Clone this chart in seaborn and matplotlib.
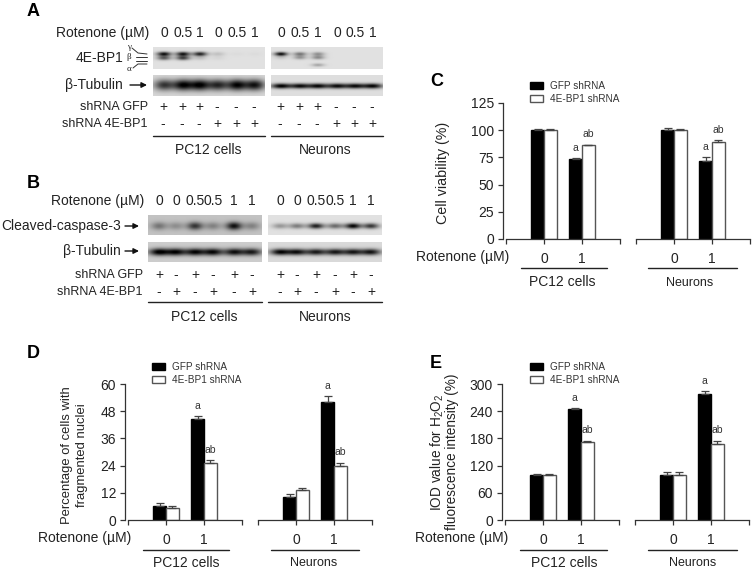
import numpy as np
import pandas as pd
import matplotlib
matplotlib.use("Agg")
import matplotlib.pyplot as plt
import seaborn as sns

W, H = 753, 572

sns.set_theme(style="ticks")
plt.rcParams['font.family'] = ['Liberation Sans', 'DejaVu Sans']
plt.rcParams['mathtext.default'] = 'regular'
plt.rcParams['text.color'] = '#222222'

SERIES = ["GFP shRNA", "4E-BP1 shRNA"]
DOSES = ["0", "1"]

# bar data, [dose 0, dose 1]
c_pc12_gfp = [100, 73.5]
c_pc12_sh = [100, 86]
c_pc12_gfp_err = [1.2, 0.6]
c_pc12_sh_err = [1, 0.5]
c_neu_gfp = [100, 72]
c_neu_sh = [100, 89]
c_neu_gfp_err = [2, 3]
c_neu_sh_err = [1, 2]

d_pc12_gfp = [6.2, 44.5]
d_pc12_sh = [5.2, 25]
d_pc12_gfp_err = [1.2, 1.3]
d_pc12_sh_err = [1, 1.5]
d_neu_gfp = [10.3, 52]
d_neu_sh = [13.2, 23.7]
d_neu_gfp_err = [1, 2.7]
d_neu_sh_err = [0.8, 1.6]

e_pc12_gfp = [100, 245]
e_pc12_sh = [100, 171]
e_pc12_gfp_err = [1, 1.5]
e_pc12_sh_err = [2, 4]
e_neu_gfp = [100, 279]
e_neu_sh = [100, 168]
e_neu_gfp_err = [5, 5]
e_neu_sh_err = [6, 7]

# blot band strengths per lane
a_gamma_pc12 = [.8, .78, .72, .12, .02, .02]
a_beta_pc12 = [.5, .6, .12, .04, 0, 0]
a_gamma_neu = [.8, .4, .3, 0, 0, 0]
a_beta_neu = [.1, .28, .32, 0, 0, 0]
a_alpha_neu = [0, 0, .22, 0, 0, 0]
a_tub_pc12 = [.62, .8, .8, .66, .8, .75]
a_tub_neu = [.85, .78, .8, .78, .78, .82]
b_casp_pc12 = [.3, .2, .55, .25, .7, .25]
b_casp_neu = [.28, .38, .75, .45, .85, .65]
b_tub_pc12 = [.8, .75, .75, .75, .72, .68]
b_tub_neu = [.8, .75, .72, .72, .72, .75]

a_doses = ["0", "0.5", "1", "0", "0.5", "1"]
b_doses = ["0", "0", "0.5", "0.5", "1", "1"]
a_gfp_signs = ["+", "+", "+", "-", "-", "-"]
a_sh_signs = ["-", "-", "-", "+", "+", "+"]
b_gfp_signs = ["+", "-", "+", "-", "+", "-"]
b_sh_signs = ["-", "+", "-", "+", "-", "+"]

fig = plt.figure(figsize=(W / 100, H / 100), dpi=100, facecolor="white")


def px_axes(x0, y0, x1, y1, **kw):
    return fig.add_axes([x0 / W, 1 - y1 / H, (x1 - x0) / W, (y1 - y0) / H], **kw)


def blot(box, lanes, bands, bg, half=7.5):
    x0, y0, x1, y1 = box
    xx, yy = np.meshgrid(np.arange(x0, x1) + .5, np.arange(y0, y1) + .5)
    img = np.full(xx.shape, bg, dtype=float)
    for yc, sig, vals in bands:
        for lane, v in zip(lanes, vals):
            img -= v * np.exp(-((xx - lane) / half) ** 2) * np.exp(-((yy - yc) / sig) ** 2)
    ax = px_axes(*box)
    sns.heatmap(np.clip(img, 0, 1), cmap="gray", vmin=0, vmax=1, cbar=False,
                xticklabels=False, yticklabels=False, ax=ax, rasterized=True)
    ax.set_xlabel("")
    ax.set_ylabel("")


def bars(box, gfp, sh, gfp_err, sh_err, ymax, yticks, show_y):
    ax = px_axes(*box)
    df = pd.DataFrame({
        "dose": DOSES * 2,
        "value": list(gfp) + list(sh),
        "group": [SERIES[0]] * 2 + [SERIES[1]] * 2,
    })
    sns.barplot(df, x="dose", y="value", hue="group", order=DOSES, hue_order=SERIES,
                palette=["black", "white"], saturation=1, width=.68, gap=0,
                errorbar=None, legend=False, ax=ax)
    for cont, errs, edge, tag in zip(ax.containers, (gfp_err, sh_err), ("black", "#555555"), ("a", "ab")):
        for patch, err in zip(cont, errs):
            patch.set_edgecolor(edge)
            patch.set_linewidth(1)
            xc = patch.get_x() + patch.get_width() / 2
            top = patch.get_height()
            ax.errorbar(xc, top, yerr=[[0], [err]], color="#444444", capsize=3,
                        elinewidth=.9, capthick=.9, clip_on=False)
        patch = cont[1]
        ax.annotate(tag, (patch.get_x() + patch.get_width() / 2, patch.get_height() + errs[1]),
                    xytext=(0, 7.5), textcoords="offset points", ha="center", va="center",
                    fontsize=7.5, color="#333333", annotation_clip=False)
    ax.set_xlim(-1, 2)
    ax.set_ylim(0, ymax)
    ax.set_xticks([-1, 0, 1, 2], ["", "0", "1", ""])
    ax.tick_params(axis="x", length=3.6, width=.9, color="#333333", pad=5.5, labelsize=10, labelcolor="#222222")
    ax.set_xlabel("")
    ax.set_ylabel("")
    ax.patch.set_alpha(0)
    for s in ("top", "right"):
        ax.spines[s].set_visible(False)
    ax.spines["bottom"].set_color("#333333")
    ax.spines["bottom"].set_linewidth(.9)
    if show_y:
        ax.set_yticks(yticks)
        ax.tick_params(axis="y", length=3.6, width=.9, color="#333333", labelsize=10, pad=3, labelcolor="#222222")
        ax.spines["left"].set_position(("outward", 2))
        ax.spines["left"].set_color("#333333")
        ax.spines["left"].set_linewidth(.9)
    else:
        ax.set_yticks([])
        ax.spines["left"].set_visible(False)
    return ax


def add_legend(ax, x, y):
    fig.legend(ax.containers[:2], SERIES, loc="upper left", bbox_to_anchor=(x / W, 1 - y / H),
               frameon=False, fontsize=7.2, borderpad=0, borderaxespad=0, handlelength=1.3,
               handleheight=.65, handletextpad=.75, labelspacing=.3, labelcolor="#333333")


# western blots
a_lanes_pc12 = [164, 183, 200, 218, 237, 255]
a_lanes_neu = [281, 300, 318, 337, 355, 373]
b_lanes_pc12 = [159, 176, 195, 213, 234, 252]
b_lanes_neu = [280, 297, 316, 335, 353, 371]

blot((153, 47, 265, 69), a_lanes_pc12,
     [(54, 2.2, a_gamma_pc12), (58, 2.2, a_beta_pc12)], .88, half=7)
blot((271, 47, 383, 69), a_lanes_neu,
     [(54, 2, a_gamma_neu), (57.5, 2, a_beta_neu), (65, 1.7, a_alpha_neu)], .88, half=6.5)
blot((153, 75, 265, 96), a_lanes_pc12, [(85, 5.5, a_tub_pc12)], .84, half=10)
blot((271, 75, 383, 96), a_lanes_neu, [(86, 2.6, a_tub_neu)], .87, half=10)
blot((148, 215, 262, 235), b_lanes_pc12, [(226, 4, b_casp_pc12)], .76, half=8)
blot((268, 215, 382, 235), b_lanes_neu, [(226, 2.8, b_casp_neu)], .88, half=8)
blot((148, 242, 262, 262), b_lanes_pc12, [(252, 3.6, b_tub_pc12)], .8, half=10)
blot((268, 242, 382, 262), b_lanes_neu, [(252, 3.2, b_tub_neu)], .85, half=10)

# bar panels
c1 = bars((506, 103, 620, 239), c_pc12_gfp, c_pc12_sh, c_pc12_gfp_err, c_pc12_sh_err, 125, [0, 25, 50, 75, 100, 125], True)
bars((636, 103, 750, 239), c_neu_gfp, c_neu_sh, c_neu_gfp_err, c_neu_sh_err, 125, [], False)
d1 = bars((128, 384, 242, 520), d_pc12_gfp, d_pc12_sh, d_pc12_gfp_err, d_pc12_sh_err, 60, [0, 12, 24, 36, 48, 60], True)
bars((258, 384, 372, 520), d_neu_gfp, d_neu_sh, d_neu_gfp_err, d_neu_sh_err, 60, [], False)
e1 = bars((505, 384, 619, 520), e_pc12_gfp, e_pc12_sh, e_pc12_gfp_err, e_pc12_sh_err, 300, [0, 60, 120, 180, 240, 300], True)
bars((635, 384, 749, 520), e_neu_gfp, e_neu_sh, e_neu_gfp_err, e_neu_sh_err, 300, [], False)

add_legend(c1, 530, 81)
add_legend(d1, 152, 362)
add_legend(e1, 530, 362)

# overlay in picture pixels for labels and rules
ov = fig.add_axes([0, 0, 1, 1], zorder=5)
ov.set_xlim(0, W)
ov.set_ylim(H, 0)
ov.axis("off")


def txt(x, y, s, size=10, ha="left", **kw):
    ov.text(x, y, s, fontsize=size, ha=ha, va="center", **kw)


def rule(x0, x1, y):
    ov.plot([x0, x1], [y, y], color="#222222", lw=1)


def arrow(x0, x1, y):
    ov.annotate("", xy=(x1, y), xytext=(x0, y),
                arrowprops=dict(arrowstyle="-|>", color="#111111", lw=1, mutation_scale=8,
                                shrinkA=0, shrinkB=0))


for x, y, s in [(27, 11, "A"), (27, 183, "B"), (430, 81, "C"), (27, 354, "D"), (430, 363, "E")]:
    txt(x, y, s, size=13, fontweight="bold", color="black")

# panel A
txt(149, 33, "Rotenone (\u00b5M)", ha="right")
for x, s in zip(a_lanes_pc12 + a_lanes_neu, a_doses * 2):
    txt(x, 33, s, ha="center")
txt(123, 58, "4E-BP1", ha="right")
txt(123, 85, "\u03b2-Tubulin", ha="right")
arrow(130, 147, 85)
for y, s in [(47, "\u03b3"), (57, "\u03b2"), (69, "\u03b1")]:
    txt(129, y, s, size=6.5, ha="center", family="Liberation Serif")
for xs, ys in [([132, 138, 147], [48, 53, 54]), ([136, 147], [57, 57]),
               ([136, 147], [61, 61]), ([133, 138, 147], [68, 64, 64])]:
    ov.plot(xs, ys, color="#333333", lw=.7)
txt(148, 107, "shRNA GFP", size=9, ha="right")
txt(148, 124, "shRNA 4E-BP1", size=9, ha="right")
for x, g, s in zip(a_lanes_pc12 + a_lanes_neu, a_gfp_signs * 2, a_sh_signs * 2):
    txt(x - 1, 107, g, ha="center")
    txt(x - 1, 124, s, ha="center")
rule(153, 265, 136)
rule(271, 383, 136)
txt(208, 150, "PC12 cells", ha="center")
txt(325, 150, "Neurons", ha="center")

# panel B
txt(144, 201, "Rotenone (\u00b5M)", ha="right")
for x, s in zip(b_lanes_pc12 + b_lanes_neu, b_doses * 2):
    txt(x, 201, s, ha="center")
txt(121, 226, "Cleaved-caspase-3", ha="right")
arrow(125, 139, 226)
txt(121, 251, "\u03b2-Tubulin", ha="right")
arrow(125, 139, 251)
txt(143, 275, "shRNA GFP", size=9, ha="right")
txt(143, 292, "shRNA 4E-BP1", size=9, ha="right")
for x, g, s in zip(b_lanes_pc12 + b_lanes_neu, b_gfp_signs * 2, b_sh_signs * 2):
    txt(x, 275, g, ha="center")
    txt(x, 292, s, ha="center")
rule(148, 262, 302)
rule(268, 382, 302)
txt(204, 317, "PC12 cells", ha="center")
txt(325, 317, "Neurons", ha="center")

# panel C
txt(443, 173, "Cell viability (%)", size=10.3, ha="center", rotation=90)
txt(509, 257, "Rotenone (\u00b5M)", ha="right")
rule(521, 607, 268)
rule(648, 737, 268)
txt(562, 282, "PC12 cells", ha="center")
txt(690, 283, "Neurons", size=9, ha="center")

# panel D
txt(67, 455, "Percentage of cells with", size=9.4, ha="center", rotation=90)
txt(82, 455, "fragmented nuclei", size=9.4, ha="center", rotation=90)
txt(131, 538, "Rotenone (\u00b5M)", ha="right")
rule(143, 229, 550)
rule(271, 359, 550)
txt(186, 563, "PC12 cells", ha="center")
txt(314, 563, "Neurons", size=9, ha="center")

# panel E
txt(437, 452, "IOD value for H$_2$O$_2$", size=9.8, ha="center", rotation=90)
txt(452, 452, "fluorescence intensity (%)", size=9.8, ha="center", rotation=90)
txt(508, 538, "Rotenone (\u00b5M)", ha="right")
rule(520, 607, 550)
rule(648, 737, 550)
txt(564, 563, "PC12 cells", ha="center")
txt(693, 563, "Neurons", size=9, ha="center")

fig.savefig("out.png", dpi=100, facecolor="white")
